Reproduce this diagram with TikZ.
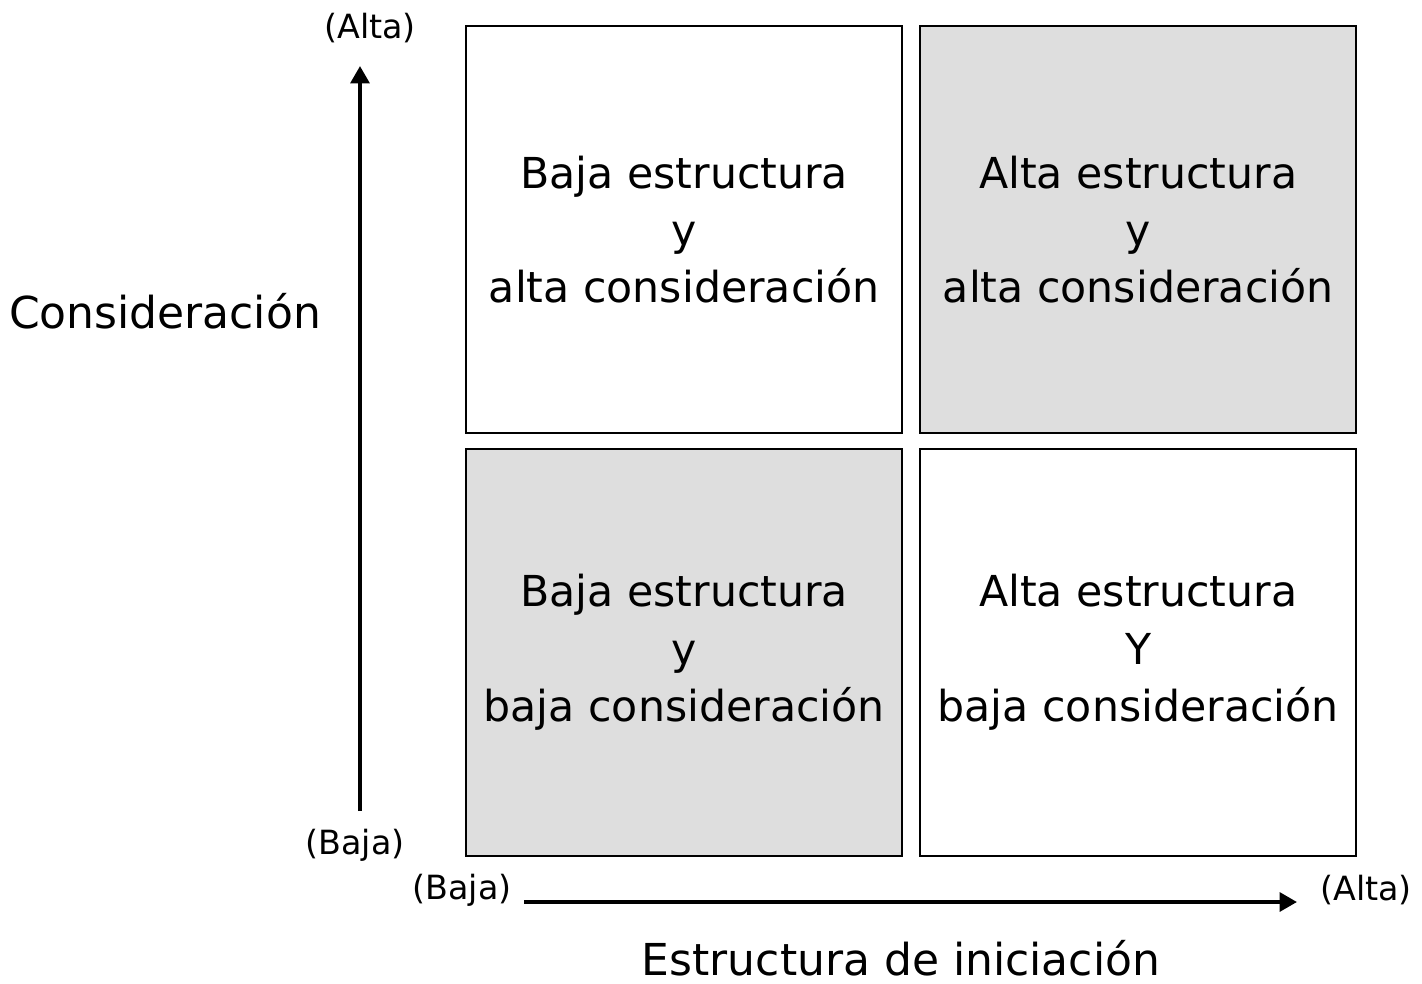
\documentclass[tikz,border=0pt]{standalone}
\usepackage{fontspec}
\setmainfont{DejaVu Sans}
\usetikzlibrary{arrows.meta}
\begin{document}
\begin{tikzpicture}[x=0.75pt,y=-0.75pt,
  cell/.style={draw=black,line width=1.8pt,minimum width=327pt,minimum height=305pt,inner sep=0pt,anchor=north west,align=center,font=\fontsize{32}{43}\selectfont},
  grey/.style={fill=black!13},
  lbl/.style={font=\fontsize{25}{28}\selectfont,inner sep=0pt},
  big/.style={font=\fontsize{33}{36}\selectfont,inner sep=0pt},
  axis/.style={line width=3pt,-{Triangle[length=13pt,width=14pt]}}]
\useasboundingbox (0,0) rectangle (1422,983);
\node[cell] (tl) at (465,25) {Baja estructura\\y\\alta consideración};
\node[cell,grey] (tr) at (919,25) {Alta estructura\\y\\alta consideración};
\node[cell,grey] (bl) at (465,448) {Baja estructura\\y\\baja consideración};
\node[cell] (br) at (919,448) {Alta estructura\\Y\\baja consideración};
\coordinate (v0) at (360,811);
\coordinate (v1) at (360,66);
\coordinate (h0) at (524,902);
\coordinate (h1) at (1297,902);
\draw[axis] (v0) -- (v1);
\draw[axis] (h0) -- (h1);
\node[lbl] (at) at (370,28) {(Alta)};
\node[lbl] (bv) at (355,845) {(Baja)};
\node[lbl] (bh) at (462,890) {(Baja)};
\node[lbl] (ah) at (1366,890) {(Alta)};
\node[big] (cons) at (165,311) {Consideración};
\node[big] (estr) at (901,958) {Estructura de iniciación};
\end{tikzpicture}
\end{document}
